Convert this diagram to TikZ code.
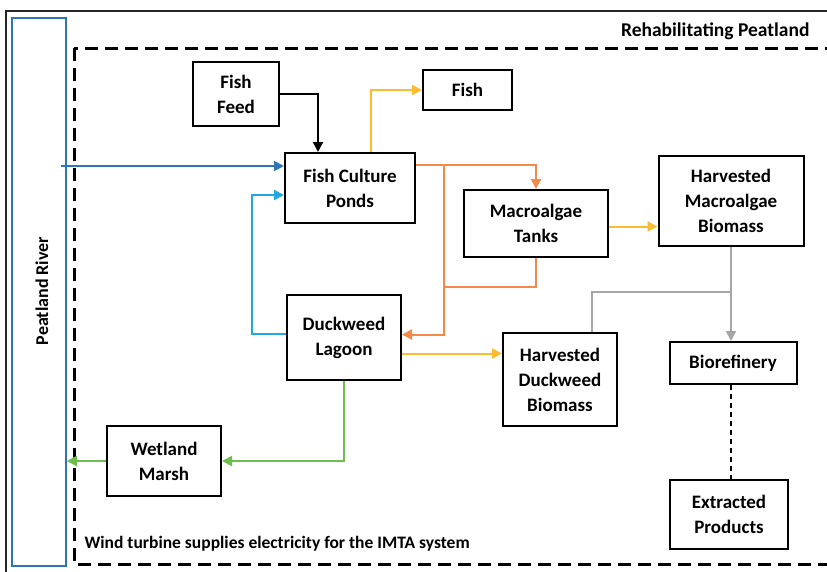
\documentclass[tikz,border=0pt]{standalone}
\usepackage{fontspec}
\setmainfont{Carlito}
\usetikzlibrary{arrows.meta,calc}
\definecolor{dblue}{HTML}{2E75B6}
\definecolor{lblue}{HTML}{22A7E2}
\definecolor{orng}{HTML}{F5894A}
\definecolor{yell}{HTML}{FDBB2F}
\definecolor{grn}{HTML}{6CBF4E}
\definecolor{gry}{HTML}{A6A6A6}
\tikzset{
  box/.style={draw=black, line width=2pt, fill=white, align=center, inner sep=0pt, font=\fontsize{19}{25}\selectfont\bfseries},
  conn/.style={line width=2pt, -{Triangle[length=10pt,width=10pt]}},
  plain/.style={line width=2pt},
}
\begin{document}
\begin{tikzpicture}[x=1pt,y=-1pt]
\useasboundingbox (0,0) rectangle (827,571);
\begin{scope}
\clip (0,0) rectangle (827,571);
\draw[line width=1.4pt, black!85] (6,11) rectangle (850,600);
\draw[line width=3pt, dash pattern=on 13pt off 7pt] (74,48) rectangle (850,564);
\end{scope}
\node[draw=dblue, line width=1.5pt, minimum width=54pt, minimum height=548pt, inner sep=0pt] (river) at (39,292) {};
\node[rotate=90, font=\fontsize{18}{22}\selectfont\bfseries] (rivertxt) at (42,291) {Peatland River};
\node[anchor=east, font=\fontsize{19.5}{23}\selectfont\bfseries] (title) at (813,31) {Rehabilitating Peatland};
\node[anchor=west, font=\fontsize{17.5}{21}\selectfont\bfseries] (wind) at (81,544) {Wind turbine supplies electricity for the IMTA system};

\node[box, minimum width=86pt, minimum height=64pt] (feed) at (236,94) {Fish\\Feed};
\node[box, minimum width=89pt, minimum height=40pt] (fish) at (467.5,90) {Fish};
\node[box, minimum width=130pt, minimum height=70pt] (ponds) at (350,188) {Fish Culture\\Ponds};
\node[box, minimum width=144pt, minimum height=67pt] (tanks) at (536,223.5) {Macroalgae\\Tanks};
\node[box, minimum width=145pt, minimum height=90pt] (hmac) at (731,201) {Harvested\\Macroalgae\\Biomass};
\node[box, minimum width=114pt, minimum height=85pt] (lagoon) at (344,337.5) {Duckweed\\Lagoon};
\node[box, minimum width=114pt, minimum height=93pt] (hduck) at (560,379.5) {Harvested\\Duckweed\\Biomass};
\node[box, minimum width=127pt, minimum height=42pt] (bioref) at (733,363) {Biorefinery};
\node[box, minimum width=114pt, minimum height=70pt] (marsh) at (164,461) {Wetland\\Marsh};
\node[box, minimum width=118pt, minimum height=69pt] (extr) at (729,514.5) {Extracted\\Products};

% black feed
\draw[conn, black] (feed.east) -| ($(ponds.north)+(-32,0)$);
% yellow to fish
\draw[conn, yell] ($(ponds.north)+(21,0)$) |- (fish.west);
% dark blue from river
\coordinate (rin) at ($(river.east)+(-6,-126)$);
\draw[conn, dblue] (rin) -- (rin -| ponds.west);
% light blue from lagoon
\draw[conn, lblue] ($(lagoon.west)+(0,-4)$) -- ++(-34,0) |- ($(ponds.west)+(0,7)$);
% orange
\draw[conn, orng] ($(ponds.east)+(0,-23)$) -| (tanks.north);
\draw[conn, orng] ($(ponds.east)+(28,-23)$) |- ($(lagoon.east)+(0,-3)$);
\draw[plain, orng] (tanks.south) |- ($(ponds.east)+(28,99)$);
% yellow to harvested
\path (tanks.east) ++(0,3) coordinate (t1);
\draw[conn, yell] (t1) -- (t1 -| hmac.west);
\path (lagoon.east) ++(0,16) coordinate (l1);
\draw[conn, yell] (l1) -- (l1 -| hduck.west);
% gray
\draw[conn, gry] (hmac.south) -- (hmac.south |- bioref.north);
\draw[plain, gry] ($(hmac.south)+(0,45)$) -| ($(hduck.north)+(32,0)$);
% green
\draw[conn, grn] (lagoon.south) |- (marsh.east);
\draw[conn, grn] (marsh.west) -- (marsh.west -| river.east);
% dashed
\draw[line width=1.2pt, dash pattern=on 5pt off 4pt] (bioref.south -| extr.north) ++(2,0) -- ($(extr.north)+(2,0)$);
\end{tikzpicture}
\end{document}
